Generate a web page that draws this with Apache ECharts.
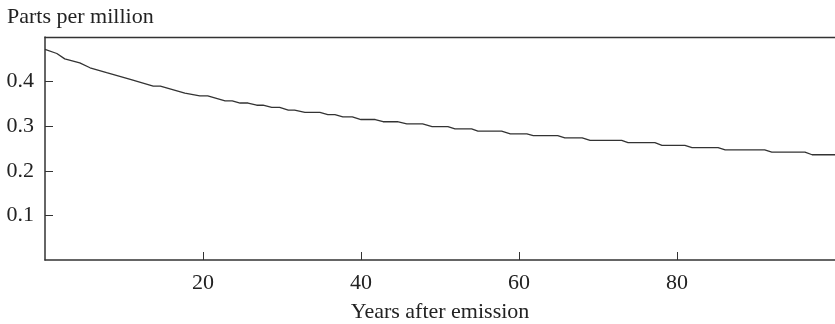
<!DOCTYPE html>
<html>
<head>
<meta charset="utf-8">
<script src="https://cdn.jsdelivr.net/npm/echarts@6/dist/echarts.min.js"></script>
<style>
  html, body { margin: 0; padding: 0; background: #fff; }
  #chart { width: 835px; height: 324px; }
</style>
</head>
<body>
<div id="chart"></div>
<script>
// years after emission and concentration (ppm)
const years = [0, 1.5, 2.5, 4.4, 5.7, 7.8, 10.8, 13.7, 14.6, 17.7, 19.6, 20.6, 22.8, 23.7, 24.7, 25.7,
  26.8, 27.6, 28.7, 29.7, 30.8, 31.6, 32.9, 34.8, 35.8, 36.7, 37.7, 38.9, 40, 41.8, 42.8, 44.6,
  45.8, 47.8, 49, 51, 51.9, 54, 54.8, 57.8, 58.9, 61, 61.8, 64.9, 65.8, 68, 69, 73, 73.8, 77.2,
  78.1, 81, 81.9, 85.2, 86.1, 91.1, 92, 96.2, 97.1, 100]
const ppm = [0.472, 0.463, 0.451, 0.442, 0.431, 0.420, 0.405, 0.390, 0.390, 0.374, 0.368, 0.368, 0.357, 0.357, 0.352, 0.352,
  0.347, 0.347, 0.342, 0.342, 0.336, 0.336, 0.331, 0.331, 0.326, 0.326, 0.321, 0.321, 0.315, 0.315, 0.310, 0.310,
  0.305, 0.305, 0.299, 0.299, 0.294, 0.294, 0.289, 0.289, 0.283, 0.283, 0.279, 0.279, 0.274, 0.274, 0.268, 0.268, 0.263, 0.263,
  0.257, 0.257, 0.252, 0.252, 0.247, 0.247, 0.242, 0.242, 0.236, 0.236]

const font = 'Liberation Serif, Times New Roman, serif'
const ink = '#222'
const fs = 22

const chart = echarts.init(document.getElementById('chart'))
chart.setOption({
  animation: false,
  backgroundColor: '#fff',
  title: {
    text: 'Parts per million',
    left: 2, top: 1,
    textStyle: { fontFamily: font, fontSize: fs, fontWeight: 'normal', color: ink }
  },
  grid: { left: 45, right: 0, top: 37, bottom: 64, outerBoundsMode: 'none' },
  xAxis: [{
    type: 'value', min: 0, max: 100, interval: 20,
    name: 'Years after emission',
    nameLocation: 'middle', nameGap: 41,
    nameTextStyle: { fontFamily: font, fontSize: fs, color: ink },
    axisLine: { lineStyle: { color: '#333', width: 1.5 } },
    axisTick: { inside: true, length: 8, lineStyle: { color: '#333' } },
    axisLabel: { fontFamily: font, fontSize: fs, color: ink, margin: 12, showMinLabel: false, showMaxLabel: false },
    splitLine: { show: false }
  }, {
    // top frame line only
    type: 'value', position: 'top', min: 0, max: 100,
    axisLine: { show: true, lineStyle: { color: '#333', width: 1.3 } },
    axisTick: { show: false },
    axisLabel: { show: false },
    splitLine: { show: false }
  }],
  yAxis: {
    type: 'value', min: 0, max: 0.5, interval: 0.1,
    axisLine: { show: true, lineStyle: { color: '#333', width: 1.5 } },
    axisTick: { show: true, inside: true, length: 8, lineStyle: { color: '#333' } },
    axisLabel: { fontFamily: font, fontSize: fs, color: ink, margin: 11, showMinLabel: false, showMaxLabel: false },
    splitLine: { show: false }
  },
  series: [{
    type: 'line',
    data: years.map((y, i) => [y, ppm[i]]),
    showSymbol: false,
    lineStyle: { color: '#333', width: 1.3 }
  }]
})
</script>
</body>
</html>
